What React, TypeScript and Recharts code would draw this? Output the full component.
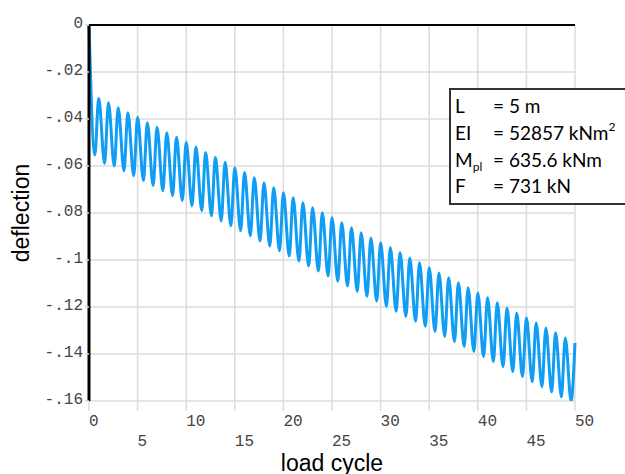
// Beam deflection under cyclic loading (shakedown / ratcheting plot)

import { LineChart, Line, XAxis, YAxis, CartesianGrid, ReferenceLine } from "recharts";

// upper turning points, reached at whole load cycles 1..50
const peakCycles = [
  1, 2, 3, 4, 5, 6, 7, 8, 9, 10, 11, 12, 13, 14, 15, 16, 17, 18, 19, 20, 21, 22, 23, 24, 25,
  26, 27, 28, 29, 30, 31, 32, 33, 34, 35, 36, 37, 38, 39, 40, 41, 42, 43, 44, 45, 46, 47, 48, 49, 50,
];
const peakValues = [
  -0.0312, -0.0331, -0.0352, -0.0373, -0.0393, -0.0416, -0.0435, -0.0458, -0.0478, -0.0499,
  -0.0519, -0.0543, -0.0563, -0.0584, -0.0607, -0.0628, -0.065, -0.0671, -0.0693, -0.0714,
  -0.0735, -0.0756, -0.0778, -0.0799, -0.082, -0.0842, -0.0863, -0.0884, -0.0906, -0.0927,
  -0.0948, -0.0969, -0.0991, -0.1012, -0.1033, -0.1055, -0.1076, -0.1097, -0.1118, -0.114,
  -0.1161, -0.1182, -0.1204, -0.1225, -0.1246, -0.1268, -0.1289, -0.131, -0.1332, -0.1353,
];

// lower turning points, a little past the middle of each cycle
const troughCycles = [
  0.6, 1.6, 2.6, 3.6, 4.6, 5.6, 6.6, 7.6, 8.6, 9.6, 10.6, 11.6, 12.6, 13.6, 14.6, 15.6, 16.6,
  17.6, 18.6, 19.6, 20.6, 21.6, 22.6, 23.6, 24.6, 25.6, 26.6, 27.6, 28.6, 29.6, 30.6, 31.6,
  32.6, 33.6, 34.6, 35.6, 36.6, 37.6, 38.6, 39.6, 40.6, 41.6, 42.6, 43.6, 44.6, 45.6, 46.6,
  47.6, 48.6, 49.6,
];
const troughValues = [
  -0.0553, -0.0589, -0.06, -0.062, -0.0641, -0.0662, -0.0683, -0.0705, -0.0726, -0.0747,
  -0.0769, -0.079, -0.0812, -0.0833, -0.0854, -0.0876, -0.0897, -0.0919, -0.094, -0.0961,
  -0.0983, -0.1004, -0.1026, -0.1047, -0.1068, -0.109, -0.1111, -0.1133, -0.1154, -0.1175,
  -0.1197, -0.1218, -0.124, -0.1261, -0.1282, -0.1304, -0.1325, -0.1347, -0.1368, -0.1389,
  -0.1411, -0.1432, -0.1454, -0.1475, -0.1496, -0.1518, -0.1539, -0.1561, -0.1582, -0.16,
];

const xTicks = [0, 5, 10, 15, 20, 25, 30, 35, 40, 45, 50];
const yTicks = [0, -0.02, -0.04, -0.06, -0.08, -0.1, -0.12, -0.14, -0.16];

// start at rest, then alternate trough / peak
const data = [{ cycle: 0, deflection: 0 }];
troughCycles.forEach((c, i) => {
  data.push({ cycle: c, deflection: troughValues[i] });
  data.push({ cycle: peakCycles[i], deflection: peakValues[i] });
});

const tickFont = "'Liberation Mono', 'DejaVu Sans Mono', monospace";

// "-.02" style labels
const formatY = (v: number) => {
  if (v === 0) return "0";
  const s = Math.abs(v).toFixed(2).replace(/0$/, "").replace(/^0/, "");
  return `-${s}`;
};

const YTick = (props: any) => {
  const { x, y, payload } = props;
  return (
    <text x={x} y={y + 3} textAnchor="end" fontFamily={tickFont} fontSize={16} fill="#444">
      {formatY(payload.value)}
    </text>
  );
};

// x labels are staggered over two rows, left aligned on the tick
const XTick = (props: any) => {
  const { x, y, payload } = props;
  const lower = payload.value % 10 !== 0;
  return (
    <text x={x} y={y + (lower ? 33 : 13)} textAnchor="start" fontFamily={tickFont} fontSize={16} fill="#444">
      {payload.value}
    </text>
  );
};

const legendFont = "Lato, 'Open Sans', sans-serif";

const ParamsBox = () => (
  <svg width={625} height={474} style={{ position: "absolute", left: 0, top: 0, pointerEvents: "none" }}>
    <rect x={450} y={89} width={200} height={115} fill="#fff" stroke="#333" strokeWidth={2} />
    <g fontFamily={legendFont} fontSize={19} fill="#000">
      <text x={455} y={113}>L</text>
      <text x={493} y={113}>= 5 m</text>
      <text x={455} y={140}>EI</text>
      <text x={493} y={140}>
        = 52857 kNm
        <tspan dy={-9} fontSize={12}>2</tspan>
      </text>
      <text x={455} y={167}>
        M
        <tspan dy={4} fontSize={12}>pl</tspan>
      </text>
      <text x={493} y={167}>= 635.6 kNm</text>
      <text x={455} y={193}>F</text>
      <text x={493} y={193}>= 731 kN</text>
    </g>
  </svg>
);

const App = () => {
  return (
    <div style={{ position: "absolute", left: 0, top: 0, width: 625, height: 474, background: "#fff" }}>
      <LineChart width={625} height={474} data={data} margin={{ top: 25, right: 50, left: 9, bottom: 13 }}>
        <CartesianGrid stroke="#dcdcdc" strokeWidth={1.5} horizontalValues={yTicks} verticalValues={xTicks} />
        <XAxis
          dataKey="cycle"
          type="number"
          domain={[0, 50]}
          ticks={xTicks}
          interval={0}
          axisLine={false}
          tickLine={{ stroke: "#dcdcdc", strokeWidth: 1.5 }}
          tickSize={10}
          tickMargin={2}
          height={60}
          tick={<XTick />}
          label={{
            value: "load cycle",
            position: "insideBottom",
            offset: -10,
            fill: "#000",
            fontSize: 23,
            fontFamily: "'Liberation Sans', Arial, sans-serif",
          }}
        />
        <YAxis
          type="number"
          domain={[-0.16, 0]}
          allowDataOverflow
          ticks={yTicks}
          interval={0}
          width={80}
          axisLine={{ stroke: "#000", strokeWidth: 3 }}
          tickLine={{ stroke: "#dcdcdc", strokeWidth: 1.5 }}
          tickSize={4}
          tickMargin={2}
          tick={<YTick />}
          label={{
            value: "deflection",
            angle: -90,
            position: "insideLeft",
            offset: 12,
            fill: "#000",
            fontSize: 23,
            fontFamily: "'Liberation Sans', Arial, sans-serif",
            style: { textAnchor: "middle" },
          }}
        />
        <ReferenceLine y={0} stroke="#000" strokeWidth={2} ifOverflow="visible" />
        <Line
          type="monotone"
          dataKey="deflection"
          stroke="#109ef5"
          strokeWidth={3}
          dot={false}
          isAnimationActive={false}
        />
      </LineChart>
      <ParamsBox />
    </div>
  );
};

export default App;
